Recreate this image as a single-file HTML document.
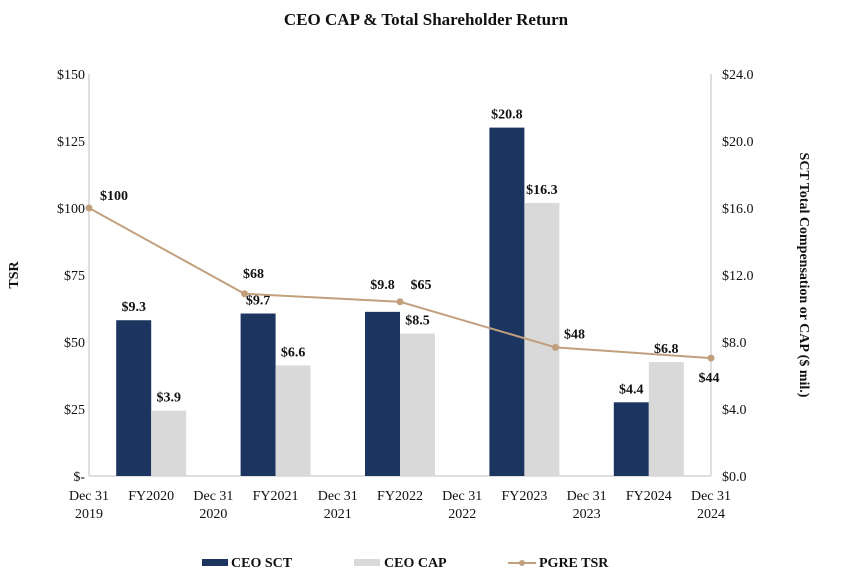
<!DOCTYPE html>
<html><head><meta charset="utf-8"><style>
body{margin:0;background:#fff;}
svg{display:block;font-family:"Liberation Serif",serif;}
</style></head><body>
<svg id="c" width="852" height="587">
<text x="426" y="25" text-anchor="middle" font-size="17" font-weight="bold" fill="#111">CEO CAP &amp; Total Shareholder Return</text>
<text transform="translate(18,275) rotate(-90)" text-anchor="middle" font-size="14" font-weight="bold" fill="#111">TSR</text>
<text transform="translate(800,275) rotate(90)" text-anchor="middle" font-size="14" font-weight="bold" fill="#111">SCT Total Compensation or CAP ($ mil.)</text>
<g id="g"></g>
<g>
<rect x="202" y="559" width="26" height="7" fill="#1c3560"/>
<text x="231" y="567" font-size="14" font-weight="bold" fill="#111">CEO SCT</text>
<rect x="354" y="559" width="26" height="7" fill="#d9d9d9"/>
<text x="384" y="567" font-size="14" font-weight="bold" fill="#111">CEO CAP</text>
<line x1="508" y1="563" x2="536" y2="563" stroke="#c2a07e" stroke-width="2"/>
<circle cx="522" cy="563" r="3" fill="#c2a07e"/>
<text x="539" y="567" font-size="14" font-weight="bold" fill="#111">PGRE TSR</text>
</g>
</svg>
<script>
const fyLabels=["FY2020","FY2021","FY2022","FY2023","FY2024"];
const sctValues=[9.3,9.7,9.8,20.8,4.4];
const capValues=[3.9,6.6,8.5,16.3,6.8];
const tsrValues=[100,68,65,48,44];
const tsrLabels=["$100","$68","$65","$48","$44"];
const dateLabels=[["Dec 31","2019"],["Dec 31","2020"],["Dec 31","2021"],["Dec 31","2022"],["Dec 31","2023"],["Dec 31","2024"]];
const leftTicks=[0,25,50,75,100,125,150];
const rightTicks=[0,4,8,12,16,20,24];

const NS="http://www.w3.org/2000/svg";
const g=document.getElementById('g');
const X0=89,X1=711,Y0=476,Y1=74;
const yL=v=>Y0-(v/150)*(Y0-Y1);
const yR=v=>Y0-(v/24)*(Y0-Y1);
const step=(X1-X0)/fyLabels.length;
const xDate=i=>X0+i*step;
const xGroup=i=>X0+(i+0.5)*step;
const xTsr=i=>X0+i*(X1-X0)/(tsrValues.length-1);
function el(t,a,txt){const e=document.createElementNS(NS,t);for(const k in a)e.setAttribute(k,a[k]);if(txt!==undefined)e.textContent=txt;g.appendChild(e);return e;}

let e;
e=el('line',{x1:X0,y1:Y1,x2:X0,y2:Y0,stroke:'#bfbfbf'});


e=el('line',{x1:X1,y1:Y1,x2:X1,y2:Y0,stroke:'#bfbfbf'});


e=el('line',{x1:X0,y1:Y0,x2:X1,y2:Y0,stroke:'#bfbfbf'});



leftTicks.forEach(v=>{
  e=el('text',{x:X0-4,y:yL(v)+5,'text-anchor':'end','font-size':14,fill:'#111'},v===0?'$-':'$'+v);
  
  
});
rightTicks.forEach(v=>{
  e=el('text',{x:X1+11,y:yR(v)+5,'text-anchor':'start','font-size':14,fill:'#111'},'$'+v.toFixed(1));
  
  
});
dateLabels.forEach((d,i)=>{
  e=el('text',{x:xDate(i),y:Y0+24,'text-anchor':'middle','font-size':14,fill:'#111'},d[0]);
  
  
  e=el('text',{x:xDate(i),y:Y0+42,'text-anchor':'middle','font-size':14,fill:'#111'},d[1]);
  
  
});
const bw=35;
const sctLift=[0,0,14,0,0];
fyLabels.forEach((f,i)=>{
  const c=xGroup(i);
  e=el('text',{x:c,y:Y0+24,'text-anchor':'middle','font-size':14,fill:'#111'},f);
  
  
  e=el('rect',{x:c-bw,y:yR(sctValues[i]),width:bw,height:Y0-yR(sctValues[i]),fill:'#1c3560'});
  
  
  e=el('rect',{x:c,y:yR(capValues[i]),width:bw,height:Y0-yR(capValues[i]),fill:'#d9d9d9'});
  
  
  e=el('text',{x:c-bw/2,y:yR(sctValues[i])-9-sctLift[i],'text-anchor':'middle','font-size':14,'font-weight':'bold',fill:'#111'},'$'+sctValues[i].toFixed(1));
  
  
  e=el('text',{x:c+bw/2,y:yR(capValues[i])-9,'text-anchor':'middle','font-size':14,'font-weight':'bold',fill:'#111'},'$'+capValues[i].toFixed(1));
  
  
});
e=el('polyline',{points:tsrValues.map((v,i)=>xTsr(i)+','+yL(v)).join(' '),fill:'none',stroke:'#c2a07e','stroke-width':2});


const off=[[25,-8],[9,-16],[21,-13],[19,-9],[-2,24]];
tsrValues.forEach((v,i)=>{
  e=el('circle',{cx:xTsr(i),cy:yL(v),r:3.5,fill:'#c2a07e'});
  
  
  e=el('text',{x:xTsr(i)+off[i][0],y:yL(v)+off[i][1],'text-anchor':'middle','font-size':14,'font-weight':'bold',fill:'#111'},tsrLabels[i]);
  
  
});
</script>
</body></html>
